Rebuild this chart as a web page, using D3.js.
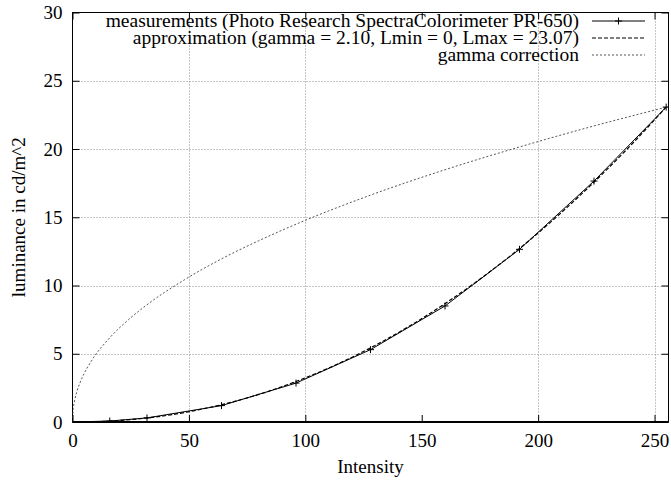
<!DOCTYPE html>
<html><head><meta charset="utf-8">
<script src="https://cdn.jsdelivr.net/npm/d3@7"></script>
<style>body{margin:0;background:#fff}svg{display:block}</style>
</head><body>
<script>
// data
const measIntensity = [0, 16, 32, 64, 96, 128, 160, 192, 224, 255];
const measLum       = [0, 0.07, 0.3, 1.2, 2.85, 5.3, 8.5, 12.65, 17.65, 23.07];
const approxIntensity = [0, 8, 16, 32, 48, 64, 80, 96, 112, 128, 144, 160, 176, 192, 208, 224, 240, 255];
const approxLum       = [0, 0.016, 0.069, 0.295, 0.69, 1.27, 2.02, 2.97, 4.10, 5.43, 6.95, 8.67, 10.59, 12.71, 15.04, 17.57, 20.31, 23.07];
const gammaIntensity = [0, 0.25, 0.5, 1, 2, 4, 8, 16, 24, 32, 48, 64, 80, 96, 128, 160, 192, 224, 256];
const gammaLum       = [0, 0.86, 1.20, 1.65, 2.29, 3.19, 4.44, 6.17, 7.49, 8.59, 10.41, 11.95, 13.28, 14.49, 16.62, 18.48, 20.15, 21.69, 23.11];
const xTicks = [0, 50, 100, 150, 200, 250];
const yTicks = [0, 5, 10, 15, 20, 25, 30];
const xGrid = [50, 100, 200, 250];
const yGrid = [5, 10, 15, 20, 25];
const legendLabels = [
  "measurements (Photo Research SpectraColorimeter PR-650)",
  "approximation (gamma = 2.10, Lmin = 0, Lmax = 23.07)",
  "gamma correction"
];

const FONT = "'Liberation Serif', 'Times New Roman', 'DejaVu Serif', serif";
const W = 671, H = 485;
const L = 72.5, R = 668.5, T = 12.5, B = 422;
const svg = d3.select("body").append("svg").attr("width", W).attr("height", H);
const x = d3.scaleLinear().domain([0, 256]).range([L, R]);
const y = d3.scaleLinear().domain([0, 30]).range([B, T]);

// grid
const g = svg.append("g").attr("stroke", "#8a8a8a").attr("stroke-width", 1).attr("stroke-dasharray", "1,2");
g.selectAll(".vg").data(xGrid).join("line")
  .attr("x1", d => Math.round(x(d)) + 0.5).attr("x2", d => Math.round(x(d)) + 0.5)
  .attr("y1", T).attr("y2", B);
g.selectAll(".hg").data(yGrid).join("line")
  .attr("y1", d => Math.round(y(d)) + 0.5).attr("y2", d => Math.round(y(d)) + 0.5)
  .attr("x1", L).attr("x2", R);

// axes (ticks inside, mirrored)
const fs = 19;
const ax = svg.append("g").attr("transform", `translate(0,${B})`)
  .call(d3.axisBottom(x).tickValues(xTicks).tickSize(-7).tickPadding(12).tickFormat(d3.format("d")));
const ax2 = svg.append("g").attr("transform", `translate(0,${T})`)
  .call(d3.axisTop(x).tickValues(xTicks).tickSize(-7).tickFormat(""));
const ay = svg.append("g").attr("transform", `translate(${L},0)`)
  .call(d3.axisLeft(y).tickValues(yTicks).tickSize(-7).tickPadding(10).tickFormat(d3.format("d")));
const ay2 = svg.append("g").attr("transform", `translate(${R},0)`)
  .call(d3.axisRight(y).tickValues(yTicks).tickSize(-7).tickFormat(""));
[ax, ax2, ay, ay2].forEach(a => {
  a.attr("font-family", null).attr("font-size", null);
  a.select(".domain").remove();
  a.selectAll("line").attr("stroke", "#000");
  a.selectAll("text").style("font-family", FONT).style("font-size", fs + "px");
});

// border
svg.append("rect").attr("x", L).attr("y", T).attr("width", R - L).attr("height", B - T)
  .attr("fill", "none").attr("stroke", "#000").attr("stroke-width", 1);
svg.append("line").attr("x1", L).attr("x2", R).attr("y1", B).attr("y2", B).attr("stroke", "#000").attr("stroke-width", 2);

// axis labels
svg.append("text").attr("x", (L + R) / 2).attr("y", 473).attr("text-anchor", "middle")
  .style("font-family", FONT).style("font-size", fs + "px").text("Intensity");
svg.append("text").attr("transform", `translate(25,${(T + B) / 2}) rotate(-90)`).attr("text-anchor", "middle")
  .style("font-family", FONT).style("font-size", fs + "px").text("luminance in cd/m^2");

const line = d3.line().x(d => x(d[0])).y(d => y(d[1]));
svg.append("clipPath").attr("id", "c").append("rect").attr("x", L).attr("y", T).attr("width", R - L).attr("height", B - T);
const plot = svg.append("g").attr("clip-path", "url(#c)");

const gammaData = gammaIntensity.map((d, i) => [d, gammaLum[i]]);
const approxData = approxIntensity.map((d, i) => [d, approxLum[i]]);
const measData = measIntensity.map((d, i) => [d, measLum[i]]);

plot.append("path").datum(gammaData).attr("d", d3.line().curve(d3.curveMonotoneX).x(d => x(d[0])).y(d => y(d[1])))
  .attr("fill", "none").attr("stroke", "#555").attr("stroke-width", 1).attr("stroke-dasharray", "2,2");
plot.append("path").datum(approxData).attr("d", d3.line().curve(d3.curveMonotoneX).x(d => x(d[0])).y(d => y(d[1])))
  .attr("fill", "none").attr("stroke", "#000").attr("stroke-width", 1.2).attr("stroke-dasharray", "4,2");
plot.append("path").datum(measData).attr("d", line)
  .attr("fill", "none").attr("stroke", "#000").attr("stroke-width", 1);
const cs = 3.5;
plot.selectAll(".pt").data(measData).join("path")
  .attr("d", d => `M${x(d[0]) - cs},${y(d[1])}H${x(d[0]) + cs}M${x(d[0])},${y(d[1]) - cs}V${y(d[1]) + cs}`)
  .attr("stroke", "#000").attr("stroke-width", 1).attr("fill", "none");

// legend
const lx1 = 592, lx2 = 645, tx = 579;
const styles = [
  {stroke: "#000", dash: null, w: 1},
  {stroke: "#000", dash: "4,2", w: 1.2},
  {stroke: "#555", dash: "2,2", w: 1}
];
legendLabels.forEach((t, i) => {
  const yy = 21 + i * 17;
  svg.append("text").attr("x", tx).attr("y", yy + 6).attr("text-anchor", "end")
    .style("font-family", FONT).style("font-size", "19.5px").text(t);
  svg.append("line").attr("x1", lx1).attr("x2", lx2).attr("y1", yy).attr("y2", yy)
    .attr("stroke", styles[i].stroke).attr("stroke-width", styles[i].w).attr("stroke-dasharray", styles[i].dash);
  if (i === 0) {
    const cx = (lx1 + lx2) / 2;
    svg.append("path").attr("d", `M${cx - cs},${yy}H${cx + cs}M${cx},${yy - cs}V${yy + cs}`).attr("stroke", "#000");
  }
});
</script>
</body></html>
